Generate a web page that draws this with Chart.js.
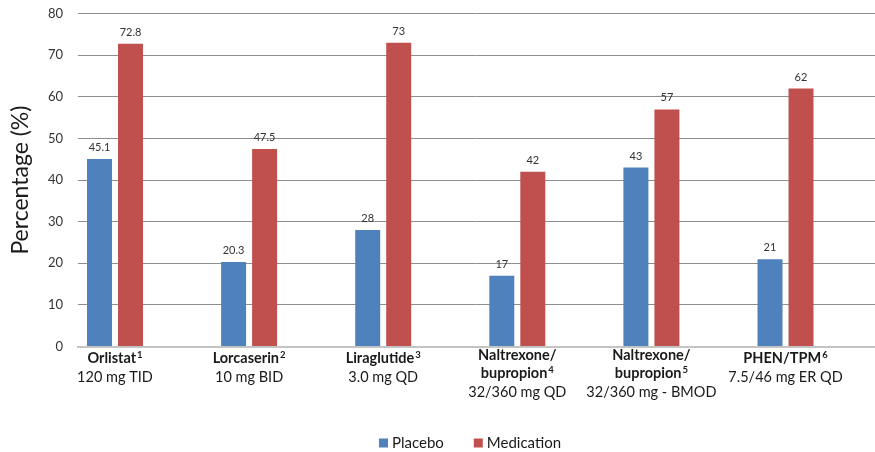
<!DOCTYPE html>
<html>
<head>
<meta charset="utf-8">
<script src="https://cdn.jsdelivr.net/npm/chart.js@4"></script>
<style>
  html, body { margin: 0; padding: 0; background: #fff; }
  #wrap { width: 875px; height: 452px; position: relative; }
</style>
</head>
<body>
<div id="wrap"><canvas id="c"></canvas></div>
<script>
// Treatment names (bold lines), reference numbers and dosing lines
const drugLines = [['Orlistat'], ['Lorcaserin'], ['Liraglutide'], ['Naltrexone/', 'bupropion'], ['Naltrexone/', 'bupropion'], ['PHEN/TPM']];
const refNumbers = ['1', '2', '3', '4', '5', '6'];
const doses = ['120 mg TID', '10 mg BID', '3.0 mg QD', '32/360 mg QD', '32/360 mg - BMOD', '7.5/46 mg ER QD'];

// Percentage of patients per arm
const placebo = [45.1, 20.3, 28, 17, 43, 21];
const medication = [72.8, 47.5, 73, 42, 57, 62];

const seriesNames = ['Placebo', 'Medication'];
const seriesColors = ['#4F81BD', '#C0504D'];

const yMin = 0, yMax = 80, yStep = 10;

const FONT = 'Lato, "Liberation Sans", sans-serif';

const toPoints = arr => arr.map((v, i) => ({ x: i, y: v }));

const annotate = {
  id: 'annotate',
  afterDatasetsDraw(chart) {
    const ctx = chart.ctx;
    ctx.save();
    // value labels above bars
    ctx.font = '11px ' + FONT;
    ctx.fillStyle = '#333';
    ctx.textAlign = 'center';
    ctx.textBaseline = 'alphabetic';
    chart.data.datasets.forEach((ds, di) => {
      const meta = chart.getDatasetMeta(di);
      meta.data.forEach((el, i) => {
        ctx.fillText(String(ds.data[i].y), el.x, el.y - 8);
      });
    });

    // category labels
    const xs = chart.scales.x;
    const lh = 18.5;
    drugLines.forEach((bold, i) => {
      const cx = xs.getPixelForValue(i);
      const n = bold.length + 1;
      const center = 368 + (n - 2) * 5.5;
      let y = center - (n - 1) * lh / 2;
      ctx.textBaseline = 'middle';
      bold.forEach((line, li) => {
        const isLast = li === bold.length - 1;
        ctx.font = 'bold 14.5px ' + FONT;
        const w = ctx.measureText(line).width;
        let sw = 0;
        if (isLast) {
          ctx.font = 'bold 9.5px ' + FONT;
          sw = ctx.measureText(refNumbers[i]).width + 1;
        }
        const x0 = cx - (w + sw) / 2;
        ctx.textAlign = 'left';
        ctx.fillStyle = '#1a1a1a';
        ctx.font = 'bold 14.5px ' + FONT;
        ctx.fillText(line, x0, y);
        if (isLast) {
          ctx.font = 'bold 9.5px ' + FONT;
          ctx.fillText(refNumbers[i], x0 + w + 1, y - 4);
        }
        y += lh;
      });
      ctx.font = '14.5px ' + FONT;
      ctx.textAlign = 'center';
      ctx.fillText(doses[i], cx, y);
    });

    // legend
    ctx.font = '15px ' + FONT;
    const box = 9, gapBox = 4, gapItem = 30;
    const widths = seriesNames.map(s => box + gapBox + ctx.measureText(s).width);
    const total = widths.reduce((a, b) => a + b, 0) + gapItem * (widths.length - 1);
    let lx = 470 - total / 2;
    const ly = 443;
    seriesNames.forEach((s, k) => {
      ctx.fillStyle = seriesColors[k];
      ctx.fillRect(lx, ly - box / 2, box, box);
      ctx.fillStyle = '#1a1a1a';
      ctx.textAlign = 'left';
      ctx.textBaseline = 'middle';
      ctx.fillText(s, lx + box + gapBox, ly);
      lx += widths[k] + gapItem;
    });
    ctx.restore();
  }
};

new Chart(document.getElementById('c'), {
  type: 'bar',
  data: {
    datasets: [
      { label: seriesNames[0], data: toPoints(placebo), backgroundColor: seriesColors[0], borderWidth: 0 },
      { label: seriesNames[1], data: toPoints(medication), backgroundColor: seriesColors[1], borderWidth: 0 }
    ]
  },
  options: {
    responsive: true,
    maintainAspectRatio: false,
    animation: false,
    categoryPercentage: 0.4623,
    barPercentage: 0.806,
    layout: { padding: { left: 0, right: 0, top: 13.7, bottom: 0 } },
    plugins: { legend: { display: false }, tooltip: { enabled: false } },
    scales: {
      x: {
        type: 'linear',
        offset: false,
        min: -0.2759,
        max: 5.6674,
        grid: { display: false },
        ticks: { display: false },
        border: { display: true, color: '#c4c4c4', width: 2 },
        afterBuildTicks: s => { s.ticks = placebo.map((_, i) => ({ value: i })); },
        afterFit: s => { s.height = 105.5; }
      },
      y: {
        min: yMin,
        max: yMax,
        ticks: { stepSize: yStep, padding: 15, color: '#333', font: { family: FONT, size: 13 } },
        grid: {
          drawTicks: false,
          color: c => (c.tick && c.tick.value === 0) ? 'rgba(0,0,0,0)' : '#8e8e8e',
          lineWidth: 1
        },
        border: { display: false },
        title: { display: true, text: 'Percentage (%)', color: '#1a1a1a', font: { family: FONT, size: 23 }, padding: { top: 7, bottom: 0 } },
        afterFit: s => { s.width = 78; s.paddingTop = 0; s.paddingBottom = 0; }
      }
    }
  },
  plugins: [annotate]
});
</script>
</body>
</html>
